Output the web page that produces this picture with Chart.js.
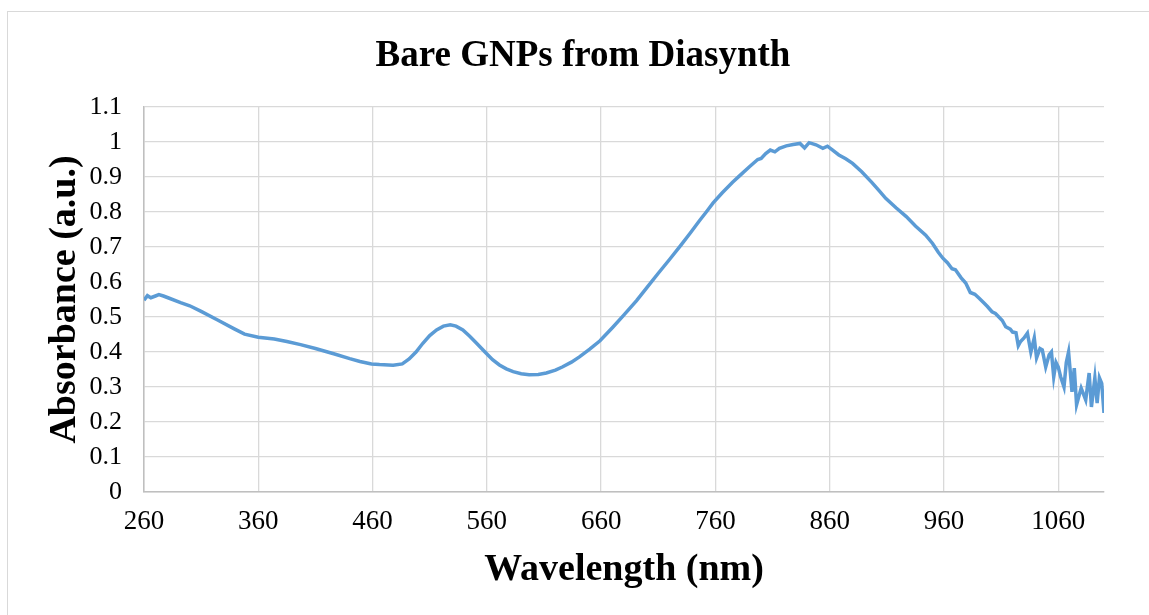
<!DOCTYPE html>
<html>
<head>
<meta charset="utf-8">
<script src="https://cdn.jsdelivr.net/npm/chart.js@4.4.1/dist/chart.umd.min.js"></script>
<style>
    html, body { margin: 0; padding: 0; background: #fff; }
    #wrap { position: relative; width: 1149px; height: 615px; overflow: hidden; }
    #frame { position: absolute; left: 7px; top: 11px; width: 1160px; height: 640px; border: 1px solid #d9d9d9; }
    #chart { position: absolute; left: 0; top: 0; }
</style>
</head>
<body>
<div id="wrap">
    <div id="frame"></div>
    <canvas id="chart" width="1149" height="615"></canvas>
</div>
<script>
// Spectrum
const wavelength = [
    260, 263, 266, 270, 273, 277, 281, 292, 300, 310, 324, 339, 348, 360, 374, 385, 397, 410, 426, 440,
    449, 459, 466, 478, 486, 492, 498, 504, 510, 516, 522, 528, 533, 539, 545, 551, 559, 565, 571, 577,
    583, 590, 597, 605, 612, 620, 626, 634, 641, 650, 659, 670, 680, 691, 700, 710, 720, 730, 738, 746,
    752, 758, 766, 775, 782, 790, 797, 800, 804, 808, 812, 816, 822, 828, 834, 838, 842, 848, 854, 858,
    862, 868, 874, 880, 888, 897, 903, 909, 918, 927, 935, 944, 950, 955, 959, 963, 967, 970, 975, 979,
    983, 987, 991, 995, 998, 1002, 1005, 1008, 1011, 1014, 1018, 1020, 1023, 1025, 1027, 1030, 1033, 1036, 1039, 1041,
    1044, 1046, 1049, 1052, 1054, 1056, 1058, 1060, 1062, 1065, 1067, 1069, 1072, 1074, 1076, 1080, 1084, 1087, 1089, 1092,
    1094, 1096, 1098, 1100
];
const absorbance = [
    0.548, 0.561, 0.555, 0.560, 0.564, 0.560, 0.555, 0.541, 0.532, 0.516, 0.492, 0.466, 0.451, 0.442, 0.437, 0.430, 0.421, 0.410, 0.395, 0.381,
    0.373, 0.366, 0.364, 0.362, 0.366, 0.380, 0.400, 0.425, 0.447, 0.463, 0.474, 0.478, 0.474, 0.463, 0.445, 0.425, 0.398, 0.378, 0.363, 0.352,
    0.344, 0.338, 0.335, 0.336, 0.340, 0.348, 0.357, 0.371, 0.386, 0.408, 0.432, 0.470, 0.506, 0.547, 0.584, 0.625, 0.665, 0.706, 0.740, 0.775,
    0.800, 0.826, 0.855, 0.885, 0.906, 0.930, 0.950, 0.953, 0.967, 0.977, 0.972, 0.982, 0.989, 0.993, 0.996, 0.983, 0.998, 0.992, 0.982, 0.988,
    0.978, 0.963, 0.952, 0.939, 0.915, 0.884, 0.862, 0.839, 0.812, 0.787, 0.760, 0.734, 0.710, 0.685, 0.668, 0.655, 0.638, 0.635, 0.612, 0.597,
    0.570, 0.565, 0.553, 0.540, 0.530, 0.515, 0.510, 0.500, 0.490, 0.472, 0.465, 0.457, 0.455, 0.418, 0.430, 0.440, 0.454, 0.400, 0.440, 0.383,
    0.410, 0.406, 0.357, 0.392, 0.400, 0.329, 0.370, 0.357, 0.330, 0.300, 0.370, 0.400, 0.286, 0.354, 0.249, 0.297, 0.263, 0.340, 0.243, 0.326,
    0.254, 0.326, 0.310, 0.226
];
const xTicks = [260, 360, 460, 560, 660, 760, 860, 960, 1060];
const chartTitle = 'Bare GNPs from Diasynth';

const serif = "'Liberation Serif', 'Times New Roman', serif";

// Title sits centred over the whole frame, not the plot, so draw it ourselves
const titlePlugin = {
    id: 'frameTitle',
    afterDraw(chart) {
        const ctx = chart.ctx;
        ctx.save();
        ctx.font = 'bold 37px ' + serif;
        ctx.fillStyle = '#000';
        ctx.textAlign = 'center';
        ctx.textBaseline = 'middle';
        ctx.fillText(chartTitle, 583, 56);
        ctx.restore();
    }
};

new Chart(document.getElementById('chart'), {
    type: 'line',
    data: {
        datasets: [{
            label: 'Bare GNPs',
            data: wavelength.map((w, i) => ({ x: w, y: absorbance[i] })),
            borderColor: '#5b9bd5',
            borderWidth: 3.5,
            pointRadius: 0,
            tension: 0,
            fill: false
        }]
    },
    plugins: [titlePlugin],
    options: {
        responsive: false,
        animation: false,
        layout: { padding: { left: 0, right: 45, top: 107, bottom: 0 } },
        plugins: {
            legend: { display: false },
            tooltip: { enabled: false },
            title: { display: false }
        },
        scales: {
            x: {
                type: 'linear',
                min: 260,
                max: 1100,
                afterBuildTicks: scale => {
                    scale.ticks = xTicks.map(v => ({ value: v }));
                },
                afterFit: scale => { scale.height = 123; },
                grid: { color: '#d9d9d9', lineWidth: 1.3, drawTicks: false },
                border: { color: '#bfbfbf', width: 1.5 },
                ticks: {
                    color: '#000',
                    padding: 14,
                    maxRotation: 0,
                    autoSkip: false,
                    font: { family: serif, size: 27 },
                    callback: v => String(v)
                },
                title: {
                    display: true,
                    text: 'Wavelength (nm)',
                    color: '#000',
                    font: { family: serif, size: 38, weight: 'bold' },
                    padding: { top: 0, bottom: 22 }
                }
            },
            y: {
                min: 0,
                max: 1.1,
                afterFit: scale => { scale.width = 144; },
                grid: { color: '#d9d9d9', lineWidth: 1.3, drawTicks: false },
                border: { color: '#bfbfbf', width: 1.5 },
                ticks: {
                    stepSize: 0.1,
                    color: '#000',
                    padding: 22,
                    autoSkip: false,
                    font: { family: serif, size: 26 },
                    callback: v => String(Math.round(v * 10) / 10)
                },
                title: {
                    display: true,
                    text: 'Absorbance (a.u.)',
                    color: '#000',
                    font: { family: serif, size: 38, weight: 'bold' },
                    padding: { top: 42, bottom: 0 }
                }
            }
        }
    }
});
</script>
</body>
</html>
